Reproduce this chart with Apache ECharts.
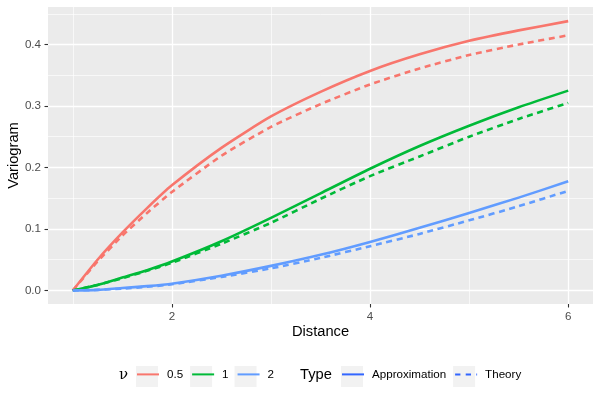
<!DOCTYPE html>
<html>
<head>
<meta charset="utf-8">
<script src="https://cdn.jsdelivr.net/npm/echarts@6/dist/echarts.min.js"></script>
<style>
html, body { margin: 0; padding: 0; background: #fff; }
#chart { width: 600px; height: 400px; }
</style>
</head>
<body>
<div id="chart"></div>
<script>
// values
var distance = [1, 1.25, 1.5, 1.75, 2, 2.5, 3, 3.5, 4, 4.5, 5, 5.5, 6];
var nuLevels = ['0.5', '1', '2'];
var typeLevels = ['Approximation', 'Theory'];
var approx05 = [0, 0.050, 0.094, 0.134, 0.171, 0.232, 0.283, 0.323, 0.357, 0.384, 0.406, 0.423, 0.438];
var theory05 = [0, 0.047, 0.089, 0.126, 0.160, 0.219, 0.266, 0.303, 0.335, 0.361, 0.383, 0.400, 0.415];
var approx1 = [0, 0.009, 0.021, 0.033, 0.047, 0.080, 0.118, 0.158, 0.198, 0.235, 0.268, 0.298, 0.325];
var theory1 = [0, 0.009, 0.020, 0.032, 0.045, 0.076, 0.110, 0.149, 0.186, 0.218, 0.250, 0.279, 0.305];
var approx2 = [0, 0.001, 0.004, 0.007, 0.011, 0.024, 0.040, 0.058, 0.079, 0.102, 0.126, 0.151, 0.1775];
var theory2 = [0, 0.001, 0.003, 0.006, 0.010, 0.022, 0.036, 0.053, 0.072, 0.092, 0.114, 0.137, 0.162];
var xTicks = [2, 4, 6];
var xMinor = [1, 3, 5];
var yTicks = [0, 0.1, 0.2, 0.3, 0.4];
var yMinor = [0.05, 0.15, 0.25, 0.35, 0.45];

var FONT = '"Liberation Sans", Arial, sans-serif';
var nuColors = ['#F8766D', '#00BA38', '#619CFF'];
var typeColor = '#3366FF';
var dash = [6, 4.6];

function pairs(vals) {
	return distance.map(function (d, i) { return [d, vals[i]]; });
}

var curves = [
	{ nu: 0, type: 0, vals: approx05 },
	{ nu: 0, type: 1, vals: theory05 },
	{ nu: 1, type: 0, vals: approx1 },
	{ nu: 1, type: 1, vals: theory1 },
	{ nu: 2, type: 0, vals: approx2 },
	{ nu: 2, type: 1, vals: theory2 }
];

var series = curves.map(function (c) {
	return {
		name: nuLevels[c.nu] + ' ' + typeLevels[c.type],
		type: 'line',
		xAxisIndex: 0,
		yAxisIndex: 0,
		data: pairs(c.vals),
		symbol: 'none',
		smooth: 0.2,
		silent: true,
		lineStyle: { color: nuColors[c.nu], width: 2.6, type: c.type ? dash : 'solid', cap: 'butt', join: 'round' }
	};
});

// legend-only series
nuLevels.forEach(function (n, i) {
	series.push({ name: n, type: 'line', data: [], symbol: 'none',
		itemStyle: { color: nuColors[i] },
		lineStyle: { color: nuColors[i], width: 2.6 } });
});
typeLevels.forEach(function (t, i) {
	series.push({ name: t, type: 'line', data: [], symbol: 'none',
		itemStyle: { color: typeColor },
		lineStyle: { color: typeColor, width: 2.6, type: i ? [5.3, 5.3] : 'solid' } });
});

function legend(names, left, isBg) {
	return {
		data: names.map(function (n) {
			return isBg ? { name: n, icon: 'rect', itemStyle: { color: '#F2F2F2', borderWidth: 0 } } : { name: n };
		}),
		left: left,
		top: 366,
		padding: 0,
		itemWidth: 22,
		itemHeight: 21,
		itemGap: 8,
		z: isBg ? 3 : 4,
		selectedMode: false,
		itemStyle: isBg ? undefined : { color: 'transparent', borderWidth: 0 },
		textStyle: {
			fontFamily: FONT,
			fontSize: 11.6,
			color: isBg ? 'rgba(0,0,0,0)' : '#000',
			padding: [0, 0, 0, 3]
		}
	};
}

var axisLabelStyle = { fontFamily: FONT, fontSize: 11.6, color: '#4D4D4D' };
var tickStyle = { show: true, length: 3.5, lineStyle: { color: '#333333', width: 1.1 } };

var opt = {
	animation: false,
	backgroundColor: '#fff',
	grid: { left: 48, right: 7, top: 7, bottom: 96, outerBoundsMode: 'none', containLabel: false,
		show: true, backgroundColor: '#EBEBEB', borderWidth: 0 },
	xAxis: [{
		type: 'value', min: 0.75, max: 6.25,
		name: 'Distance', nameLocation: 'middle', nameGap: 20, nameMoveOverlap: false,
		nameTextStyle: { fontFamily: FONT, fontSize: 14.7, color: '#000' },
		axisLine: { show: false, onZero: false },
		axisTick: Object.assign({ customValues: xTicks }, tickStyle),
		axisLabel: Object.assign({ customValues: xTicks, margin: 7 }, axisLabelStyle),
		splitLine: { show: true, lineStyle: { color: '#fff', width: 1.3 } }
	}, {
		type: 'value', min: 0.75, max: 6.25, position: 'bottom',
		axisLine: { show: false, onZero: false },
		axisTick: { show: false, customValues: xMinor },
		axisLabel: { show: false },
		splitLine: { show: true, lineStyle: { color: '#fff', width: 0.65 } }
	}],
	yAxis: [{
		type: 'value', min: -0.022, max: 0.461,
		name: 'Variogram', nameLocation: 'middle', nameGap: 27, nameMoveOverlap: false,
		nameTextStyle: { fontFamily: FONT, fontSize: 14.7, color: '#000' },
		axisLine: { show: false, onZero: false },
		axisTick: Object.assign({ customValues: yTicks }, tickStyle),
		axisLabel: Object.assign({ customValues: yTicks, margin: 7,
			formatter: function (v) { return v.toFixed(1); } }, axisLabelStyle),
		splitLine: { show: true, lineStyle: { color: '#fff', width: 1.3 } }
	}, {
		type: 'value', min: -0.022, max: 0.461, position: 'left',
		axisLine: { show: false, onZero: false },
		axisTick: { show: false, customValues: yMinor },
		axisLabel: { show: false },
		splitLine: { show: true, lineStyle: { color: '#fff', width: 0.65 } }
	}],
	legend: [
		legend(nuLevels, 136, true),
		legend(nuLevels, 136, false),
		legend(typeLevels, 341, true),
		legend(typeLevels, 341, false)
	],
	graphic: [
		{ type: 'text', x: 119, y: 375, style: { text: 'ν', font: '15px "DejaVu Serif", serif', fill: '#000', verticalAlign: 'middle' } },
		{ type: 'text', x: 300, y: 375, style: { text: 'Type', font: '14.7px ' + FONT, fill: '#000', verticalAlign: 'middle' } }
	],
	series: series
};

echarts.init(document.getElementById('chart')).setOption(opt);
</script>
</body>
</html>
